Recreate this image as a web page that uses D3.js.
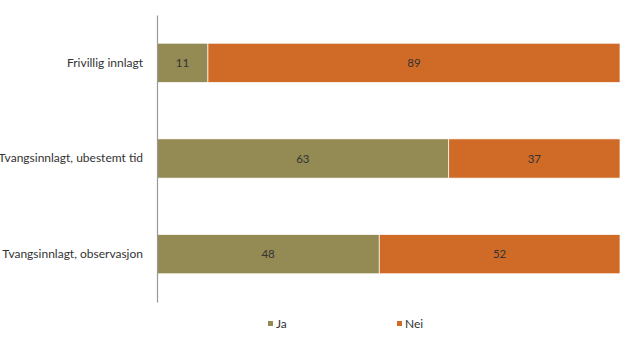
<!DOCTYPE html>
<html>
<head>
<meta charset="utf-8">
<script src="https://cdn.jsdelivr.net/npm/d3@7"></script>
<style>
  html, body { margin: 0; padding: 0; background: #fff; }
  svg { display: block; font-family: Lato, "Open Sans", sans-serif; }
</style>
</head>
<body>
<svg id="chart" width="620" height="346"></svg>
<script>
// Share answering yes / no, by admission type (percent)
const categories = ["Frivillig innlagt", "Tvangsinnlagt, ubestemt tid", "Tvangsinnlagt, observasjon"];
const jaValues = [11, 63, 48];
const neiValues = [89, 37, 52];
const seriesNames = ["Ja", "Nei"];
const seriesColors = ["#948A54", "#D06B27"];

const svg = d3.select("#chart");

const x = d3.scaleLinear().domain([0, 100]).range([157, 620]);
const y = d3.scaleBand().domain(categories).range([15, 302])
  .paddingInner(0.59).paddingOuter(0.295);

const rows = categories.map((c, i) => ({ cat: c, Ja: jaValues[i], Nei: neiValues[i] }));
const stack = d3.stack().keys(seriesNames)(rows);

const color = d3.scaleOrdinal().domain(seriesNames).range(seriesColors);

// Stacked bars
const layers = svg.append("g").selectAll("g")
  .data(stack).join("g")
  .attr("fill", d => color(d.key));

layers.selectAll("rect")
  .data(d => d)
  .join("rect")
  .attr("x", d => x(d[0]))
  .attr("y", d => y(d.data.cat))
  .attr("width", d => x(d[1]) - x(d[0]))
  .attr("height", y.bandwidth())
  .attr("stroke", "#fff")
  .attr("stroke-width", 0.7);

// Value labels centred in each segment
layers.selectAll("text")
  .data(d => d)
  .join("text")
  .attr("x", d => (x(d[0]) + x(d[1])) / 2)
  .attr("y", d => y(d.data.cat) + y.bandwidth() / 2)
  .attr("dy", "0.35em")
  .attr("text-anchor", "middle")
  .attr("font-size", 11.5)
  .attr("fill", "#333")
  .text(d => d[1] - d[0]);

// Category axis
const axis = svg.append("g")
  .attr("transform", `translate(${x(0)},0)`)
  .call(d3.axisLeft(y).tickSize(0).tickPadding(14));
axis.select(".domain").attr("stroke", "#999").attr("stroke-width", 1.2);
axis.selectAll("text")
  .attr("font-size", 12)
  .attr("fill", "#333")
  .attr("font-family", "Lato, 'Open Sans', sans-serif");

// Legend
const legendX = [268, 397];
const legend = svg.append("g").selectAll("g")
  .data(seriesNames).join("g")
  .attr("transform", (d, i) => `translate(${legendX[i]},324)`);
legend.append("rect")
  .attr("x", 0).attr("y", -3)
  .attr("width", 5).attr("height", 5)
  .attr("fill", d => color(d));
legend.append("text")
  .attr("x", 8).attr("y", 0)
  .attr("dy", "0.35em")
  .attr("font-size", 12)
  .attr("fill", "#333")
  .text(d => d);
</script>
</body>
</html>
